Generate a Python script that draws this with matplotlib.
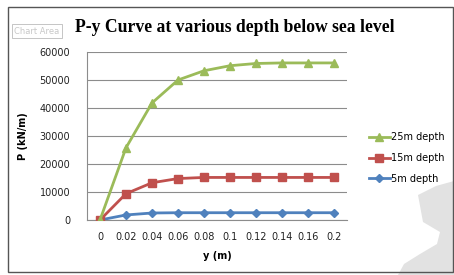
import matplotlib
matplotlib.use("Agg")
import matplotlib.pyplot as plt
from matplotlib.patches import Rectangle, Polygon

# valori
y_labels = ["0", "0.02", "0.04", "0.06", "0.08", "0.1", "0.12", "0.14", "0.16", "0.2"]
p_25m = [0, 25800, 41800, 50000, 53300, 55100, 55900, 56100, 56100, 56100]
p_15m = [0, 9400, 13300, 14800, 15200, 15200, 15200, 15200, 15200, 15200]
p_5m = [0, 1800, 2500, 2600, 2600, 2600, 2600, 2600, 2600, 2600]
y_ticks = [0, 10000, 20000, 30000, 40000, 50000, 60000]

GREEN = "#9BBB59"
RED = "#C0504D"
BLUE = "#4F81BD"
GRID = "#8c8c8c"

W, H = 454, 275
fig = plt.figure(figsize=(W / 100, H / 100), dpi=100)

# watermark gri din colt (aproximativ)
pts = [(418, 195), (436, 186), (454, 181), (454, 275), (398, 275), (404, 264),
       (420, 254), (437, 244), (440, 232), (423, 222)]
wm = Polygon([(px / W, 1 - py / H) for px, py in pts], closed=True,
             transform=fig.transFigure, facecolor="#e2e2e2", edgecolor="none", zorder=0)
fig.patches.append(wm)

# chenarul zonei graficului
frame = Rectangle((8 / W, 1 - 272 / H), 445 / W, 265 / H, transform=fig.transFigure,
                  fill=False, edgecolor="#555555", linewidth=1.0, zorder=1)
fig.patches.append(frame)

ax = fig.add_axes([87 / W, 1 - 220 / H, 260 / W, 168 / H])
ax.set_facecolor("none")
x = range(len(y_labels))
ax.plot(x, p_5m, color=BLUE, lw=2, marker="D", ms=4, label="5m depth", zorder=3)
ax.plot(x, p_15m, color=RED, lw=2, marker="s", ms=6, label="15m depth", zorder=4)
ax.plot(x, p_25m, color=GREEN, lw=2, marker="^", ms=6, label="25m depth", zorder=5)

ax.set_xlim(-0.5, len(y_labels) - 0.5)
ax.set_ylim(0, 60000)
ax.set_yticks(y_ticks)
ax.set_yticklabels([str(v) for v in y_ticks])
ax.set_xticks(list(x))
ax.set_xticklabels(y_labels)
ax.tick_params(axis="both", length=0, labelsize=7, colors="#222222")
ax.tick_params(axis="y", pad=12)
ax.tick_params(axis="x", pad=9)
ax.grid(axis="y", color=GRID, lw=0.8)
ax.set_axisbelow(True)
for s in ["top", "right"]:
    ax.spines[s].set_visible(False)
ax.spines["left"].set_color(GRID)
ax.spines["bottom"].set_color(GRID)

ax.set_xlabel("y (m)", fontsize=7, fontweight="bold", labelpad=6)
ax.set_ylabel("P (kN/m)", fontsize=7, fontweight="bold", labelpad=8)

h, l = ax.get_legend_handles_labels()
fig.legend(h[::-1], l[::-1], loc="center left", bbox_to_anchor=(360 / W, 1 - 158 / H),
           frameon=False, fontsize=7, handlelength=2.2, handletextpad=0.1,
           labelspacing=1.1)

fig.text(235 / W, 1 - 27 / H, "P-y Curve at various depth below sea level",
         ha="center", va="center", fontsize=12.7, fontweight="bold",
         family="Liberation Serif")

# eticheta "Chart Area" (tooltip din captura)
fig.text(14 / W, 1 - 31 / H, "Chart Area", ha="left", va="center", fontsize=6,
         color="#c8c8c8",
         bbox=dict(boxstyle="square,pad=0.3", facecolor="white", edgecolor="#bbbbbb", lw=0.6))

fig.savefig("out.png", dpi=100)
